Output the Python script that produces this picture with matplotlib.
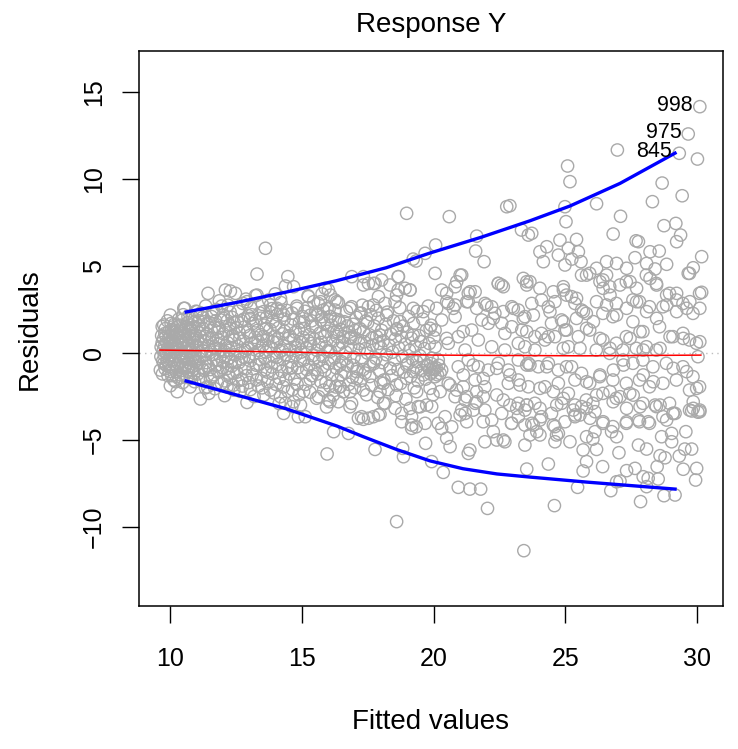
import matplotlib.pyplot as plt

plt.rcParams['font.family'] = ['Liberation Sans', 'DejaVu Sans']

# (fitted value, residual) pairs, by region
pts_a = [(9.63,-0.98),(9.66,0.35),(9.70,1.52),(9.72,-0.45),(9.75,0.82),(9.78,-0.12),(9.80,1.12),(9.83,0.05),
         (9.85,-0.70),(9.88,0.55),(9.90,1.85),(9.92,-1.30),(9.95,0.20),(9.97,-0.35),(10.00,0.95),(10.01,-1.88),
         (10.03,0.40),(10.05,1.35),(10.07,-0.85),(10.10,0.10),(10.12,0.70),(10.14,-1.55),(10.16,1.65),(10.18,-0.20),
         (10.20,0.50),(10.22,-1.05),(10.25,1.05),(10.27,-2.22),(10.28,0.25),(10.30,-0.60),(10.33,1.95),(10.35,0.85),
         (10.37,-1.25),(10.40,0.00),(10.42,1.40),(10.44,-0.40),(10.46,0.65),(10.48,-1.70),(10.50,2.20),(10.52,0.30),
         (10.55,-0.90),(10.56,2.57),(10.58,1.10),(10.60,-0.15),(10.62,0.75),(10.65,-1.40),(10.67,1.75),(10.70,0.45),
         (10.72,-0.55),(10.74,1.25),(10.76,-1.95),(10.78,0.15),(10.80,0.95),(10.82,-0.80),(10.85,2.05),(10.87,-0.25),
         (10.89,1.50),(10.91,-1.15),(10.94,0.60),(10.96,-0.45),(10.98,2.40),(9.70,0.60),(9.76,-0.60),(9.82,1.40),
         (9.87,-0.05),(9.93,0.80),(9.98,-1.05),(10.04,1.70),(10.09,-0.40),(10.13,0.30),(10.19,1.20),(10.24,-0.75),
         (10.29,0.90),(10.34,-0.20),(10.39,1.60),(10.43,-1.40),(10.49,0.55),(10.54,1.30),(10.59,-0.65),(10.64,0.10),
         (10.69,-1.05),(10.73,0.85),(10.79,1.60),(10.84,-0.35),(10.88,0.20),(10.93,-1.65),(10.97,1.05),(9.76,1.61),
         (10.01,2.18),(10.52,2.57),(10.77,1.42),
         (9.65,-0.20),(9.68,1.00),(9.71,-1.20),(9.74,0.15),(9.79,0.40),(9.81,-0.90),(9.84,0.95),(9.89,-0.45),
         (9.91,0.30),(9.94,1.20),(9.96,-0.80),(9.99,0.60),(10.02,-0.10),(10.06,-1.30),(10.08,0.85),(10.11,1.25),
         (10.15,-0.60),(10.17,0.45),(10.21,-1.65),(10.23,0.05),(10.26,1.50),(10.31,0.35),(10.32,-1.45),(10.36,1.15),
         (10.38,-0.50),(10.41,0.60),(10.45,-0.85),(10.47,1.90),(10.51,-0.30),(10.53,0.95),(10.57,-1.20),(10.61,1.50),
         (10.63,-0.35),(10.66,0.40),(10.68,2.10),(10.71,-0.80),(10.75,0.05),(10.77,-1.45),(10.81,1.30),(10.83,0.45),
         (10.86,-1.00),(10.90,0.80),(10.92,-0.10),(10.95,1.80),(10.99,-0.70)]

pts_b = [(11.02,0.35),(11.05,-1.20),(11.08,1.85),(11.10,-0.30),(11.13,0.95),(11.15,-2.64),(11.17,2.30),(11.20,-0.85),
         (11.22,0.15),(11.25,1.40),(11.27,-1.60),(11.30,0.65),(11.32,-0.10),(11.35,2.70),(11.37,-0.55),(11.40,1.10),
         (11.42,-1.95),(11.44,3.43),(11.46,0.40),(11.47,-2.32),(11.50,1.75),(11.52,-0.95),(11.55,0.05),(11.57,2.10),
         (11.60,-1.35),(11.62,0.85),(11.65,-0.40),(11.67,1.50),(11.70,-2.05),(11.72,0.25),(11.75,2.50),(11.77,-0.70),
         (11.80,1.20),(11.82,-1.10),(11.85,0.55),(11.87,3.00),(11.90,-0.20),(11.92,1.90),(11.95,-1.75),(11.97,0.90),
         (12.00,-0.50),(12.02,2.20),(12.05,0.10),(12.07,-2.45),(12.10,3.62),(12.12,1.30),(12.15,-0.90),(12.16,-1.94),
         (12.18,0.60),(12.20,2.75),(12.23,-0.30),(12.25,1.60),(12.27,-1.40),(12.29,3.56),(12.31,0.30),(12.34,-0.75),
         (12.36,2.05),(12.38,1.00),(12.40,-1.85),(12.42,-2.13),(12.44,0.75),(12.46,-0.10),(12.48,3.43),(12.50,1.45),
         (11.03,2.38),(11.28,1.80),(11.66,2.38),(12.04,1.99),(12.29,1.42),
         (11.04,0.70),(11.07,-0.55),(11.11,1.55),(11.14,-1.50),(11.18,0.50),(11.21,-0.20),(11.24,2.05),(11.28,-1.00),
         (11.31,0.95),(11.34,-2.00),(11.38,0.10),(11.41,1.65),(11.45,-0.75),(11.49,0.85),(11.53,-1.50),(11.56,1.30),
         (11.59,-0.10),(11.63,2.30),(11.66,-1.25),(11.69,0.35),(11.73,1.85),(11.76,-0.40),(11.79,-1.70),(11.83,0.75),
         (11.86,1.45),(11.89,-1.05),(11.93,0.20),(11.96,2.70),(11.99,-0.85),(12.03,1.10),(12.06,-1.60),(12.09,0.40),
         (12.13,-0.15),(12.17,1.85),(12.21,-1.15),(12.24,0.15),(12.28,2.35),(12.32,-0.50),(12.35,0.95),(12.39,-1.15),
         (12.43,1.75),(12.47,-0.55)]

pts_c = [(12.53,-1.10),(12.56,0.40),(12.58,2.40),(12.61,-0.55),(12.63,1.15),(12.66,-2.20),(12.68,0.00),(12.71,1.85),
         (12.73,-1.50),(12.76,2.85),(12.78,0.70),(12.81,-0.25),(12.83,1.50),(12.86,-0.90),(12.88,3.10),(12.92,-2.84),
         (12.94,0.25),(12.97,2.15),(12.99,-1.70),(13.02,1.00),(13.04,-0.45),(13.07,2.60),(13.09,0.55),(13.12,-1.25),
         (13.14,1.70),(13.17,-0.05),(13.19,-2.50),(13.22,0.90),(13.24,3.30),(13.27,-0.70),(13.30,4.54),(13.30,3.33),
         (13.32,1.30),(13.35,-1.90),(13.37,0.15),(13.40,2.30),(13.42,-0.35),(13.45,1.05),(13.47,-1.45),(13.50,2.80),
         (13.52,0.45),(13.56,-2.41),(13.58,1.60),(13.61,-0.95),(13.62,6.02),(13.64,0.05),(13.66,2.05),(13.69,-1.65),
         (13.71,0.80),(13.74,3.05),(13.76,-0.50),(13.79,1.35),(13.81,-2.13),(13.84,0.30),(13.86,2.55),(13.89,-1.20),
         (13.91,1.80),(13.94,-0.20),(13.96,0.95),(13.99,3.40),(14.02,-1.80),(14.04,0.60),(14.07,2.20),(14.09,-0.65),
         (14.12,1.45),(14.14,-2.90),(14.17,0.10),(14.19,-2.51),(14.21,2.90),(14.24,-1.05),(14.26,1.10),(14.29,-0.35),
         (14.31,-3.47),(14.33,1.95),(14.36,0.40),(14.38,3.85),(14.40,-1.55),(14.43,2.45),(14.45,-0.80),(14.47,4.39),
         (14.49,0.85),(12.92,2.95),(13.05,1.99),(13.55,2.38),(13.81,2.76),(14.06,2.57),(14.19,3.14),(14.31,2.18),
         (12.55,1.80),(12.60,-1.60),(12.65,0.85),(12.70,-0.35),(12.75,-1.90),(12.80,1.95),(12.85,0.15),(12.90,-1.30),
         (12.95,1.20),(13.00,-0.20),(13.05,-2.10),(13.10,2.20),(13.15,-0.90),(13.20,0.55),(13.25,1.85),(13.28,-1.55),
         (13.34,0.70),(13.39,-0.65),(13.44,2.00),(13.49,-2.00),(13.54,0.95),(13.60,-0.30),(13.65,1.40),(13.70,-1.10),
         (13.75,0.35),(13.80,2.35),(13.85,-0.80),(13.90,0.65),(13.95,-2.30),(14.00,1.65),(14.05,-0.25),(14.10,0.85),
         (14.15,-1.45),(14.20,2.40),(14.25,0.15),(14.30,-1.95),(14.35,1.25),(14.42,-0.10),(14.48,-2.20)]

pts_d = [(14.52,-1.20),(14.55,0.20),(14.58,1.60),(14.60,-0.50),(14.63,2.30),(14.65,-2.10),(14.69,-2.80),(14.69,3.81),
         (14.70,0.75),(14.73,-1.50),(14.76,1.20),(14.78,-0.10),(14.81,2.70),(14.84,-0.85),(14.86,0.45),(14.89,-2.40),
         (14.91,1.75),(14.95,-2.99),(14.97,0.05),(15.00,-1.10),(15.02,2.10),(15.05,0.90),(15.08,-0.40),(15.10,1.40),
         (15.13,-3.66),(15.15,-1.80),(15.18,0.30),(15.21,2.60),(15.24,3.29),(15.26,-0.70),(15.29,1.05),(15.31,-2.25),
         (15.34,0.55),(15.37,1.85),(15.39,-1.30),(15.42,-0.15),(15.45,2.95),(15.47,0.80),(15.50,-0.95),(15.53,1.50),
         (15.56,-2.60),(15.58,0.15),(15.61,2.20),(15.64,-2.51),(15.66,-0.45),(15.69,1.15),(15.72,-1.65),(15.74,0.60),
         (15.77,3.40),(15.80,-0.20),(15.83,-2.13),(15.85,1.70),(15.88,-1.00),(15.89,3.72),(15.91,0.35),(15.94,-3.10),
         (15.96,-5.80),(15.98,1.25),(16.01,-0.60),(16.04,2.55),(16.06,-1.90),(16.09,0.10),(16.12,1.60),(16.15,-1.25),
         (16.18,0.70),(16.20,-2.41),(16.21,-4.52),(16.24,-0.30),(16.27,1.95),(16.30,-0.85),(16.33,0.95),(16.36,-1.55),
         (16.39,2.90),(16.42,0.25),(16.45,-1.94),(16.48,1.35),(16.51,-0.50),(16.54,0.60),(16.58,-2.22),(16.61,1.80),
         (16.64,-1.10),(16.67,0.05),(16.70,2.40),(16.73,-0.70),(16.77,-4.62),(16.80,1.20),(16.83,-3.09),(16.86,0.40),
         (16.90,4.39),(16.92,-1.40),(16.95,1.65),(16.98,-0.25),(17.01,-2.00),(17.04,0.85),(17.07,2.05),(17.10,-0.90),
         (17.15,-3.75),(17.18,0.20),(17.21,1.40),(17.24,-1.60),(17.27,-0.40),(17.30,2.75),(17.34,-3.81),(17.37,0.65),
         (17.40,-1.15),(17.43,1.85),(17.46,-2.40),(17.49,0.00),(17.53,-3.75),(17.56,1.05),(17.59,-0.75),(17.62,2.20),
         (17.65,-1.85),(17.69,0.45),(17.72,-3.66),(17.72,4.00),(17.75,1.55),(17.78,-5.54),(17.81,-0.30),(17.84,0.95),
         (17.88,-2.55),(17.91,2.00),(17.94,-1.00),(17.97,-3.52),(18.00,0.30),(18.03,1.30),(14.82,2.57),(15.07,1.80),
         (15.25,3.24),(15.33,2.18),(15.71,2.95),(15.96,2.57),(16.01,3.62),(16.09,3.33),(16.26,3.05),(16.33,2.95),
         (16.83,2.57),(17.34,3.91),(17.34,4.39),(17.53,4.00),(17.78,4.00),(17.91,3.24),(17.72,2.76),(17.53,2.66),
         (17.21,2.28),(16.89,2.66),(16.26,2.47),(15.82,2.47),(15.63,2.85),(15.76,2.09),(16.07,2.09),(16.39,1.90),
         (14.38,-2.89),(14.62,-3.08),(14.87,-3.66),(16.01,-2.70),(16.39,-2.80),(16.89,-2.89),(17.27,-3.66),
         (17.91,-3.56),(16.58,-2.22),(16.45,-1.94),(16.07,-2.80),(16.33,1.23),(16.83,0.84),(17.34,1.23),(17.97,1.03),
         (16.45,-0.69),(17.08,-1.07),(17.72,-0.50),(17.34,-2.13),(16.83,-2.22),(17.97,-2.22),
         (14.54,1.00),(14.62,-0.85),(14.68,1.95),(14.75,0.30),(14.82,-1.80),(14.88,1.35),(14.94,-0.45),(15.01,0.60),
         (15.07,-2.20),(15.12,2.40),(15.19,-0.95),(15.25,0.70),(15.32,-1.50),(15.40,1.55),(15.46,-0.35),(15.52,2.35),
         (15.59,-1.20),(15.65,0.50),(15.73,1.90),(15.79,-0.80),(15.86,0.95),(15.92,-1.70),(16.00,0.15),(16.08,2.10),
         (16.14,-0.40),(16.22,1.20),(16.29,-1.95),(16.37,0.45),(16.44,1.75),(16.50,-1.25),(16.57,0.95),(16.65,-0.35),
         (16.72,1.55),(16.79,-1.80),(16.87,0.90),(16.94,-0.70),(17.02,1.30),(17.09,-1.45),(17.17,0.55),(17.25,2.30),
         (17.33,-0.95),(17.41,0.25),(17.50,1.75),(17.58,-1.35),(17.66,0.85),(17.74,-0.60),(17.83,2.45),(17.92,0.55),
         (18.00,-1.70)]

pts_e = [(18.06,-0.55),(18.09,0.70),(18.12,-1.55),(18.18,1.65),(18.21,-0.10),(18.25,2.35),(18.28,-2.10),(18.31,0.45),
         (18.35,-0.88),(18.38,1.10),(18.42,-1.30),(18.45,0.05),(18.48,1.85),(18.52,-0.40),(18.55,0.80),(18.58,-2.45),
         (18.62,1.40),(18.65,-0.95),(18.68,0.30),(18.72,2.60),(18.75,-1.75),(18.78,0.95),(18.82,-0.20),(18.85,1.55),
         (18.88,-1.10),(18.92,0.50),(18.95,-2.65),(19.00,1.20),(19.03,-0.60),(19.06,2.10),(19.09,0.15),(19.13,-1.35),
         (19.16,0.85),(19.20,-0.35),(19.24,1.70),(19.27,-2.00),(19.30,0.40),(19.34,-0.85),(19.38,2.40),(19.41,-1.60),
         (19.45,1.00),(19.48,-0.15),(19.52,0.65),(19.55,-1.00),(19.59,1.95),(19.62,-0.45),(19.66,0.25),(19.70,-1.50),
         (19.73,1.30),(19.77,-0.75),(19.80,2.70),(19.84,0.55),(19.88,-1.20),(19.91,1.60),(19.95,-0.30),(19.98,-2.40),
         (20.02,0.90),(20.05,-0.95),(19.85,-0.95),(19.95,-1.10),(20.10,-0.85),(20.15,-1.25),(19.90,-0.60),(20.20,-0.70),
         (18.16,2.85),(18.54,2.95),(18.03,4.20),(18.66,4.39),(18.66,3.62),(18.92,3.72),(19.11,3.62),(18.35,3.91),
         (18.60,3.33),(18.22,2.18),(18.73,1.80),(19.23,2.57),(19.61,2.38),(20.12,2.57),(20.50,2.95),(20.75,2.57),
         (21.26,2.95),(21.64,2.57),(22.02,2.76),(22.27,1.99),(22.65,2.38),(23.03,2.57),(23.41,1.99),(20.50,3.43),
         (21.39,3.52),(18.60,1.32),(19.23,1.03),(19.87,1.42),(20.50,0.84),(21.13,1.23),(18.35,-0.88),(18.98,-0.69),
         (19.36,-0.50),(19.74,-0.69),(19.99,-0.88),(20.25,-1.17),(19.23,-1.07),(19.61,-1.26),(18.98,-1.46),
         (18.60,-1.84),(18.10,-1.74),(19.36,-2.22),(19.87,-2.03),(20.25,-2.22),(20.63,-1.84),(21.13,-1.26),
         (21.51,-0.69),(21.89,-1.46),(22.40,-0.88),(22.90,-1.26),(23.28,-1.84),(23.54,-0.69),(19.11,-3.18),
         (18.16,-2.89),(18.79,-3.47),(19.17,-3.66),(19.42,-3.08),(19.17,-4.14),(19.68,-4.04),(19.93,-3.08)]

pts_f = [(18.60,-9.69),(18.98,8.03),(20.60,7.84),(19.68,5.73),(19.23,5.40),(19.34,5.29),(20.08,6.21),(20.06,4.58),
         (18.67,4.39),(19.11,3.62),(21.64,6.72),(21.60,5.86),(21.92,5.25),(21.07,4.48),(20.88,4.10),(22.46,4.00),
         (22.58,3.91),(22.05,-8.93),(20.94,-7.72),(21.38,-7.82),(21.79,-7.82),(20.37,-6.86),(19.93,-6.24),
         (18.86,-5.96),(18.83,-5.48),(19.70,-5.19),(20.63,-5.38),(21.32,-5.77),(21.38,-5.57),(21.95,-5.10),
         (22.40,-5.00),(22.71,-5.10),(19.17,-4.33),(19.34,-4.24),(20.31,-4.33),(20.69,-4.24),(20.50,-4.90),
         (18.79,-3.95),(18.10,-2.89),(18.54,-3.18),(19.49,-3.09),(19.74,-2.99),(21.01,-3.56),(21.20,-3.47),
         (21.51,-3.28),(21.26,-3.95),(21.89,-3.95),(22.27,-4.52),(22.65,-5.00),(22.96,-4.04),(23.22,-3.66),
         (23.54,-2.99),(21.64,-2.80),(21.89,-2.51),(22.40,-2.41),(22.65,-2.70),(22.90,-2.99),(23.16,-3.18),
         (20.88,-2.13),(21.13,-1.94),(21.26,-2.51),(21.64,-2.22),(22.78,8.41),(22.90,8.47),(23.34,7.07),(23.60,6.78)]

pts_g = [(21.01,4.48),(23.41,4.29),(23.66,4.10),(25.62,4.48),(20.31,3.62),(20.82,3.81),(21.32,3.43),(21.58,3.52),
         (20.56,2.85),(20.82,2.76),(21.32,2.95),(21.95,2.85),(22.21,2.66),(22.46,4.00),(22.65,3.81),(21.83,1.90),
         (22.08,1.71),(22.33,2.28),(22.97,2.66),(23.22,2.47),(23.47,2.09),(23.73,2.85),(24.10,3.05),(24.36,2.66),
         (24.61,2.95),(24.93,3.62),(25.24,3.24),(25.37,2.85),(25.62,2.47),(24.86,1.90),(24.48,1.71),(24.10,1.13),
         (23.85,0.94),(23.35,1.32),(22.97,1.51),(22.59,1.71),(22.71,1.13),(23.22,0.56),(23.47,0.36),(23.85,0.17),
         (24.23,0.75),(24.61,0.94),(25.12,0.36),(25.50,0.94),(24.99,1.32),(21.45,1.32),(20.94,0.94),(20.56,0.56),
         (20.06,0.36),(21.20,0.17),(21.70,0.75),(22.21,0.36),(22.71,0.17),(20.06,1.32),(20.31,1.90),(20.82,2.09),
         (20.18,-0.40),(20.31,-0.98),(20.06,-1.36),(20.56,-1.74),(20.94,-0.79),(21.32,-0.40),(21.70,-0.79),
         (22.08,-0.98),(21.58,-1.55),(21.95,-1.94),(22.46,-0.59),(22.84,-0.98),(23.22,-0.40),(23.60,-0.59),
         (23.98,-0.79),(24.36,-0.59),(24.74,-0.98),(25.24,-0.79),(25.62,-1.17),(22.84,-1.74),(23.22,-1.55),
         (23.60,-1.94),(24.23,-1.94),(24.74,-1.74),(25.12,-2.32),(25.37,-1.55),(20.82,-2.51),(21.20,-2.70),
         (21.58,-2.89),(21.07,-3.28),(20.44,-3.66),(20.18,-4.04),(21.95,-3.28),(22.21,-3.85),(22.59,-3.47),
         (22.97,-4.04),(23.22,-2.89),(23.47,-3.28),(23.85,-2.89),(24.10,-3.66),(24.48,-3.47),(24.86,-2.89),
         (25.37,-3.66),(25.62,-3.08),(23.73,-4.04),(24.61,-4.23)]

pts_h = [(25.93,4.58),(26.43,4.20),(26.69,3.81),(27.32,4.10),(28.08,4.48),(28.46,4.00),(29.72,4.58),(30.10,3.43),
         (28.96,3.43),(29.22,3.05),(29.47,2.85),(29.85,2.28),(28.71,2.66),(28.20,2.66),(27.82,2.95),(27.57,3.05),
         (26.94,2.85),(26.43,2.28),(26.81,2.09),(27.57,1.80),(27.95,1.23),(27.32,0.94),(26.94,0.56),(26.43,0.75),
         (25.93,1.32),(25.80,2.28),(28.58,1.51),(29.09,0.94),(29.47,1.13),(29.72,0.75),(29.98,0.56),(30.04,-0.21),
         (28.46,0.17),(28.08,0.36),(27.70,0.27),(27.19,0.17),(26.69,-0.02),(26.18,0.17),(27.19,-0.40),(27.57,-0.59),
         (27.95,-0.40),(28.33,-0.79),(28.84,-0.59),(29.47,-0.79),(29.85,-1.36),(30.10,-1.94),(29.72,-2.13),
         (29.22,-1.55),(28.71,-1.74),(28.20,-1.94),(27.82,-1.55),(27.32,-1.74),(26.81,-1.55),(26.31,-1.36),
         (25.93,-1.74),(25.80,-2.70),(26.05,-2.89),(26.43,-2.32),(26.94,-2.60),(27.45,-2.32),(27.95,-2.89),
         (28.46,-3.08),(28.96,-2.89),(29.09,-3.47),(29.72,-3.28),(30.04,-3.40),(26.43,-4.04),(26.81,-4.23),
         (27.32,-4.04),(27.82,-3.95),(28.20,-4.04),(28.71,-3.66),(23.54,1.23),(24.36,0.94),(25.05,1.32),
         (25.81,1.42),(26.32,0.84),(27.46,0.84),(27.84,1.23),(28.98,0.94),(29.48,0.84),(30.11,0.65),(24.93,0.27),
         (25.56,0.27),(26.70,0.27),(27.96,0.17),(28.60,0.27),(23.66,-0.69),(24.30,-0.79),(25.05,-0.79),
         (25.81,-1.65),(26.32,-1.26),(26.83,-0.98),(27.21,-0.69),(27.96,-1.26),(28.34,-1.65),(29.10,-0.88),
         (29.61,-1.07),(29.99,-2.03),(30.11,-3.28),(29.86,-2.80),(24.04,-2.03),(24.55,-2.22),(24.93,-2.61),
         (25.37,-2.99),(26.19,-2.42),(26.70,-2.22),(27.08,-2.51),(27.58,-2.42),(28.60,-2.99),(23.79,-4.14),
         (24.67,-4.71)]

pts_i = [(30.11,14.16),(29.67,12.59),(29.33,11.48),(26.98,11.67),(30.02,11.15),(25.09,10.75),(25.18,9.85),
         (28.68,9.77),(29.44,9.04),(28.31,8.70),(26.19,8.58),(24.99,8.41),(25.03,7.55),(27.10,7.86),(26.82,6.84),
         (28.75,7.32),(29.20,7.45),(29.38,6.78),(29.23,6.40),(30.18,5.54),(27.69,6.45),(27.78,6.40),(28.22,5.82),
         (28.57,5.86),(28.85,5.10),(29.67,4.58),(29.86,4.90),(30.18,3.49),(23.73,6.88),(24.80,6.49),(25.43,6.53),
         (24.04,5.82),(24.30,6.11),(24.17,5.25),(24.74,5.63),(25.12,6.02),(25.50,5.82),(25.60,5.25),(25.25,5.40),
         (24.99,5.06),(25.81,4.48),(24.93,3.81),(23.54,4.10),(26.19,4.87),(26.57,5.25),(26.95,5.15),(27.33,4.87),
         (27.65,5.48),(28.09,5.15),(28.41,4.83),(26.57,4.48),(26.32,4.10),(26.44,3.72),(26.70,3.33),(27.08,3.91),
         (27.46,4.10),(27.71,3.72),(28.22,4.29),(28.47,3.91),(28.85,3.33),(29.23,3.43),(29.61,2.57),(30.11,2.57),
         (23.54,3.91),(24.04,3.72),(24.55,3.52),(25.05,3.33),(25.43,3.14),(25.69,2.38),(26.19,2.95),(26.57,2.76),
         (26.95,2.18),(27.33,2.57),(27.71,2.95),(28.09,2.38),(28.47,1.99),(28.85,2.76),(29.23,2.38),(29.73,2.95),
         (25.43,1.99),(26.07,1.80),(24.42,2.38),(23.79,2.18),(24.93,1.80)]

pts_j = [(23.43,-11.36),(24.59,-8.77),(27.86,-8.54),(28.75,-8.20),(29.17,-8.16),(26.73,-7.91),(26.95,-7.40),
         (27.08,-7.36),(25.47,-7.72),(28.09,-7.68),(28.15,-7.20),(28.53,-7.24),(27.65,-6.63),(27.33,-6.76),
         (27.96,-7.11),(29.95,-7.30),(29.99,-6.63),(29.48,-6.68),(25.68,-6.78),(25.81,-6.24),(26.42,-6.53),
         (24.36,-6.38),(23.54,-6.67),(28.49,-6.53),(28.79,-6.02),(28.60,-5.90),(29.33,-5.92),(29.54,-5.52),
         (29.80,-5.52),(27.04,-5.73),(26.19,-5.54),(25.68,-5.57),(29.04,-5.10),(27.78,-5.29),(28.09,-5.52),
         (28.66,-4.81),(29.04,-4.62),(29.58,-4.52),(26.76,-4.52),(26.95,-4.81),(26.13,-4.52),(25.81,-4.81),
         (25.18,-5.10),(24.61,-5.10),(24.04,-4.71),(23.66,-4.71),(23.47,-5.29),(23.92,-4.52),(24.74,-4.62),
         (27.33,-3.95),(27.78,-3.85),(28.15,-3.95),(28.85,-3.85),(29.10,-3.47),(29.80,-3.33),(30.11,-3.37),
         (23.47,-4.14),(24.04,-3.85),(24.55,-4.14),(24.99,-3.95),(25.56,-3.56),(25.94,-3.75),(26.44,-3.95),
         (26.82,-2.80),(27.33,-3.18),(27.84,-3.09),(28.41,-2.99),(29.17,-3.47),(29.86,-3.18),(24.04,-3.18),
         (23.54,-2.99),(24.68,-2.99),(25.31,-3.28),(25.37,-3.56),(25.81,-3.18),(26.13,-3.37),(26.05,-4.95)]

# smooth lines (lowess fit and spread bands)
red_x = [9.62, 14.44, 20.06, 25.70, 30.15]
red_y = [0.17, 0.06, -0.12, -0.16, -0.12]
up_x = [10.61, 12.50, 14.40, 16.30, 18.20, 19.87, 21.80, 23.66, 25.18, 27.08, 29.17]
up_y = [2.36, 2.90, 3.50, 4.15, 4.90, 5.75, 6.65, 7.60, 8.45, 9.75, 11.49]
lo_x = [10.61, 12.50, 14.40, 16.34, 17.32, 18.61, 19.87, 21.12, 22.41, 23.66, 25.83, 29.17]
lo_y = [-1.61, -2.40, -3.20, -4.20, -4.80, -5.55, -6.20, -6.65, -6.95, -7.13, -7.42, -7.82]

# labelled observations
id_labels = ['998', '975', '845']
id_x = [30.11, 29.67, 29.33]
id_y = [14.16, 12.59, 11.48]

pts = pts_a + pts_b + pts_c + pts_d + pts_e + pts_f + pts_g + pts_h + pts_i + pts_j
fitted = [p[0] for p in pts]
resid = [p[1] for p in pts]

fig = plt.figure(figsize=(7.38, 7.49), dpi=100)
ax = fig.add_axes([139/738, 1 - 606/749, (723 - 139)/738, (606 - 51)/749])

ax.axhline(0, color='#bebebe', ls=(0, (1, 3)), lw=1, zorder=1)
ax.scatter(fitted, resid, s=78, facecolors='none', edgecolors='#a9a9a9', linewidths=1.0, zorder=2)
ax.plot(red_x, red_y, color='red', lw=1.1, zorder=3)
ax.plot(up_x, up_y, color='blue', lw=2.4, zorder=3)
ax.plot(lo_x, lo_y, color='blue', lw=2.4, zorder=3)
for lab, x, y in zip(id_labels, id_x, id_y):
    ax.annotate(lab, (x, y), xytext=(-5, 1), textcoords='offset points',
                ha='right', va='center', fontsize=15.5)

ax.set_xlim(8.82, 30.99)
ax.set_ylim(-14.54, 17.36)
ax.set_xticks([10, 15, 20, 25, 30])
ax.set_yticks([-10, -5, 0, 5, 10, 15])
ax.tick_params(direction='out', length=12, width=1, labelsize=18)
ax.tick_params(axis='x', pad=17.5)
ax.tick_params(axis='y', pad=12)
plt.setp(ax.get_yticklabels(), rotation=90, va='center')
for s in ax.spines.values():
    s.set_linewidth(1.1)

fig.text(431/738, 1 - 25/749, 'Response Y', ha='center', va='center', fontsize=20)
fig.text(431/738, 1 - 722/749, 'Fitted values', ha='center', va='center', fontsize=20)
fig.text(30/738, 1 - 329/749, 'Residuals', ha='center', va='center', rotation=90, fontsize=20)

fig.savefig('out.png', dpi=100)
